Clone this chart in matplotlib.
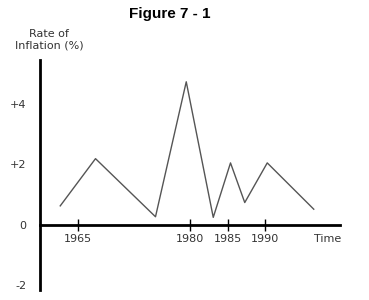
import matplotlib
matplotlib.use("Agg")
import matplotlib.pyplot as plt

# inflation path
years = [1962.7, 1967.4, 1975.4, 1979.5, 1983.1, 1985.4, 1987.3, 1990.3, 1996.5]
rates = [0.63, 2.19, 0.27, 4.73, 0.25, 2.05, 0.74, 2.05, 0.52]

xticks = [1965, 1980, 1985, 1990]
yticks = [-2, 0, 2, 4]
ylabels = ["-2", "0", "+2", "+4"]

fig = plt.figure(figsize=(3.69, 3.0), dpi=100)
ax = fig.add_axes([40 / 369, 10 / 300, 300 / 369, 230 / 300])

ax.plot(years, rates, color="#555555", lw=1.0)

ax.set_xlim(1960, 2000)
ax.set_ylim(-2.15, 5.45)

for s in ["top", "right"]:
    ax.spines[s].set_visible(False)
ax.spines["left"].set_linewidth(2)
ax.spines["bottom"].set_linewidth(2)
ax.spines["bottom"].set_position(("data", 0))

ax.set_xticks(xticks)
ax.set_xticklabels([str(y) for y in xticks], fontsize=8, color="#333333")
ax.tick_params(axis="x", direction="inout", length=9, width=1, pad=2)
ax.set_yticks(yticks)
ax.set_yticklabels(ylabels, fontsize=8, color="#333333")
ax.tick_params(axis="y", length=0, pad=10)

ax.text(1998.4, -0.45, "Time", fontsize=8, color="#333333", ha="center", va="center")

fig.text(170 / 369, 1 - 14 / 300, "Figure 7 - 1", fontsize=11, fontweight="bold",
         family="Liberation Sans", ha="center", va="center")
fig.text(49 / 369, 1 - 40 / 300, "Rate of\nInflation (%)", fontsize=8, color="#333333",
         ha="center", va="center", linespacing=1.15)

fig.savefig("out.png", dpi=100)
